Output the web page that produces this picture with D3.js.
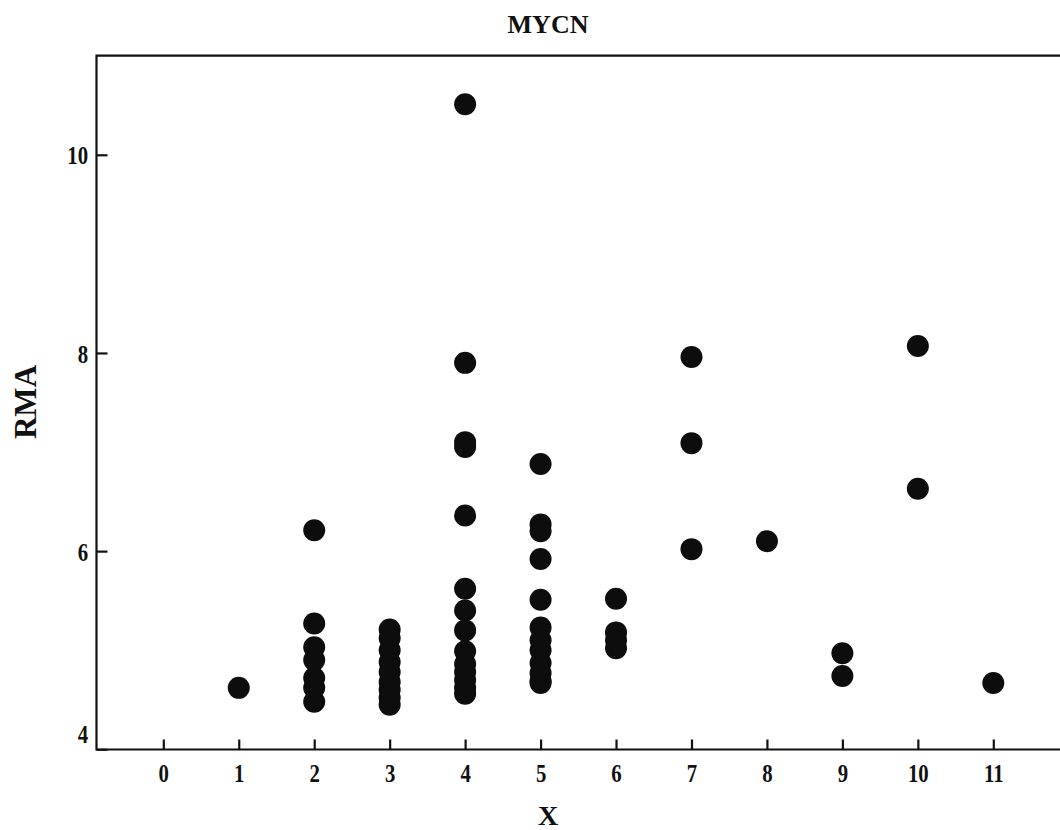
<!DOCTYPE html>
<html>
<head>
<meta charset="utf-8">
<script src="https://cdn.jsdelivr.net/npm/d3@7"></script>
<style>
  html, body { margin: 0; padding: 0; background: #fff; }
  svg { display: block; }
  text { font-family: "Liberation Serif", "Times New Roman", serif; font-weight: bold; fill: #111; }
</style>
</head>
<body>
<svg id="chart" width="1060" height="830"></svg>
<script>
// ---- data ----
const chartTitle = "MYCN";
const xLabel = "X";
const yLabel = "RMA";
const xTicks = [0, 1, 2, 3, 4, 5, 6, 7, 8, 9, 10, 11];
const yTicks = [4, 6, 8, 10];
const xValues = [
  1,
  2, 2, 2, 2, 2, 2, 2,
  3, 3, 3, 3, 3, 3, 3, 3, 3,
  4, 4, 4, 4, 4, 4, 4, 4, 4, 4, 4, 4, 4, 4,
  5, 5, 5, 5, 5, 5, 5, 5, 5, 5, 5, 5,
  6, 6, 6, 6,
  7, 7, 7,
  8,
  9, 9,
  10, 10,
  11
];
const yValues = [
  4.62,
  6.21, 5.27, 5.03, 4.90, 4.72, 4.62, 4.48,
  5.21, 5.12, 5.00, 4.88, 4.78, 4.68, 4.60, 4.52, 4.45,
  10.51, 7.90, 7.10, 7.05, 6.36, 5.62, 5.40, 5.20, 4.99, 4.86, 4.78, 4.70, 4.62, 4.56,
  6.88, 6.27, 6.20, 5.92, 5.51, 5.23, 5.10, 5.00, 4.87, 4.77, 4.69, 4.67,
  5.52, 5.18, 5.10, 5.02,
  7.96, 7.09, 6.02,
  6.10,
  4.97, 4.74,
  8.07, 6.63,
  4.67
];

// ---- layout ----
const svg = d3.select("#chart");
const frameLeft = 96.5, frameTop = 55.7, frameBottom = 749.5, frameRight = 1075;

const x = d3.scaleLinear().domain([0, 11]).range([163.3, 993.3]);
const y = d3.scaleLinear().domain([4, 11]).range([749.3, 55.7]);

// frame
svg.append("path")
  .attr("d", `M${frameRight},${frameTop}H${frameLeft}V${frameBottom}H${frameRight}`)
  .attr("fill", "none").attr("stroke", "#111").attr("stroke-width", 2.2);

// x axis
const gx = svg.append("g")
  .attr("transform", `translate(0,${frameBottom})`)
  .call(d3.axisBottom(x).tickValues(xTicks).tickFormat(d3.format("d")).tickSizeInner(-10).tickSizeOuter(0));
gx.select(".domain").remove();
gx.selectAll(".tick line").attr("stroke", "#111").attr("stroke-width", 2.2);
gx.selectAll(".tick text")
  .attr("y", 33).attr("dy", 0)
  .attr("transform", "scale(0.8,1)")
  .attr("x", 0)
  .style("font-size", "26px")
  .style("font-family", "'Liberation Serif', serif")
  .style("font-weight", "bold")
  .attr("fill", "#111");

// y axis
const gy = svg.append("g")
  .attr("transform", `translate(${frameLeft},0)`)
  .call(d3.axisLeft(y).tickValues(yTicks).tickFormat(d3.format("d")).tickSizeInner(-11).tickSizeOuter(0));
gy.select(".domain").remove();
gy.selectAll(".tick line").attr("stroke", "#111").attr("stroke-width", 2.2);
gy.selectAll(".tick text")
  .attr("x", -10.5)
  .attr("dy", d => d === 4 ? "-0.25em" : "0.35em")
  .attr("transform", "scale(0.8,1)")
  .style("font-size", "26px")
  .style("font-family", "'Liberation Serif', serif")
  .style("font-weight", "bold")
  .attr("fill", "#111");

// points
svg.append("g")
  .selectAll("circle")
  .data(xValues.map((v, i) => [v, yValues[i]]))
  .join("circle")
  .attr("cx", d => x(d[0]))
  .attr("cy", d => y(d[1]))
  .attr("r", 11)
  .attr("fill", "#0d0d0d");

// title
svg.append("text")
  .attr("x", 548).attr("y", 33)
  .attr("text-anchor", "middle")
  .style("font-size", "26px")
  .text(chartTitle);

// x label
svg.append("text")
  .attr("x", 548).attr("y", 825)
  .attr("text-anchor", "middle")
  .style("font-size", "28px")
  .text(xLabel);

// y label
svg.append("text")
  .attr("transform", "translate(36,402) rotate(-90)")
  .attr("text-anchor", "middle")
  .style("font-size", "31px")
  .text(yLabel);
</script>
</body>
</html>
